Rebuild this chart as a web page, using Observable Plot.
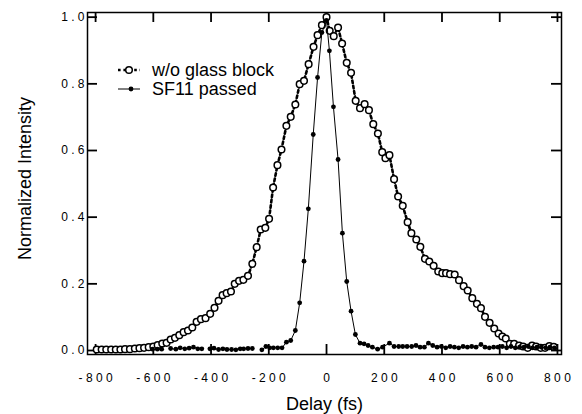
<!DOCTYPE html>
<html><head><meta charset="utf-8">
<script src="https://cdn.jsdelivr.net/npm/d3@7"></script>
<script src="https://cdn.jsdelivr.net/npm/@observablehq/plot@0.6"></script>
<style>
body{margin:0;background:#fff;}
#chart{width:582px;height:414px;}
svg{font-family:"Liberation Sans",Arial,sans-serif;}
</style></head><body><div id="chart"></div>
<script>
// ---- data ----
const seriesNames = ["w/o glass block", "SF11 passed"];
const xLabel = "Delay (fs)";
const yLabel = "Normalized Intensity";
const xTicks = [-800, -600, -400, -200, 0, 200, 400, 600, 800];
const yTicks = [0, 0.2, 0.4, 0.6, 0.8, 1.0];

const glassDelay = [
  -796,-779,-763,-746,-730,-714,-698,-681,-664,-648,
  -632,-616,-600,-585,-569,-554,-540,-525,-510,-495,
  -480,-465,-450,-435,-419,-403,-388,-374,-360,-346,
  -331,-318,-303,-288,-272,-257,-242,-228,-212,-199,
  -185,-170,-156,-139,-124,-108,-93,-78,-62,-45,
  -31,-16,0,11,25,40,54,70,85,101,
  116,132,147,162,178,193,204,218,234,248,
  264,281,294,311,325,341,356,371,387,401,
  414,428,444,459,475,489,505,521,535,549,
  565,581,596,609,621,635,650,667,681,697,
  712,726,742,757,772,787
];
const glassValue = [
  .003,.003,.003,.003,.003,.003,.004,.004,.006,.007,
  .008,.010,.012,.016,.021,.023,.033,.038,.046,.055,
  .060,.069,.086,.094,.097,.110,.128,.149,.166,.172,
  .177,.200,.209,.212,.224,.260,.310,.363,.368,.395,
  .489,.556,.603,.674,.701,.738,.799,.809,.859,.911,
  .946,.976,1.000,.959,.943,.969,.921,.863,.833,.749,
  .727,.739,.721,.679,.651,.595,.577,.586,.514,.462,
  .434,.385,.352,.333,.311,.275,.267,.254,.237,.232,
  .232,.229,.228,.211,.193,.180,.157,.140,.127,.101,
  .083,.066,.051,.042,.036,.020,.020,.015,.012,.008,
  .015,.012,.008,.008,.013,.011
];

const sf11Delay = [
  -603,-586,-571,-556,-540,-522,-507,-491,-476,-461,
  -446,-432,-418,-404,-390,-374,-359,-345,-329,-314,
  -299,-287,-272,-257,-240,-224,-210,-197,-184,-169,
  -154,-139,-124,-108,-93,-78,-63,-46,-31,-16,
  0,10,24,40,55,70,85,100,116,130,
  144,159,177,194,218,234,250,264,279,295,
  310,324,339,353,368,383,398,413,428,443,
  458,473,488,503,518,535,549,564,579,594,
  609,624,639,654,669,684,699,714,729,744,
  759,774,789
];
const sf11Value = [
  .004,.004,.004,null,.006,.004,.008,.005,.007,.010,
  .005,.005,null,.005,.007,.003,.005,.003,.003,.002,
  .005,.005,.006,.006,null,.002,.012,.008,.008,.008,
  .008,.025,.030,.060,.143,.268,.425,.648,.819,.954,
  .990,.899,.731,.573,.352,.207,.118,.048,.022,.020,
  .015,.010,.004,.010,.022,.012,.012,.012,.012,.012,
  .015,.010,.010,.022,.015,.010,.012,.008,.012,.010,
  .008,.012,.010,.012,.010,.018,.010,.008,.010,.010,
  .012,.008,.012,.008,.010,.010,.012,.008,.010,.010,
  .008,.010,.008
];

// ---- build ----
const glass = glassDelay.map((d, i) => ({delay: d, value: glassValue[i]}));
const sf11 = sf11Delay.map((d, i) => ({delay: d, value: sf11Value[i]}));
const spaced = s => s.split("").join(" ");
const FONT = '"Liberation Sans", Arial, sans-serif';
const W = 582, H = 414, ML = 87, MR = 21, MT = 12, MB = 60, TICK = 10, LW = 1.5, TW = 1.8;
const frameW = W - ML - MR, frameH = H - MT - MB;

const plot = Plot.plot({
  width: W, height: H,
  marginLeft: ML, marginRight: MR, marginTop: MT, marginBottom: MB,
  style: {fontFamily: FONT, fontSize: "12px", color: "black", background: "white", overflow: "visible"},
  x: {domain: [-828, 814]},
  y: {domain: [-0.012, 1.014]},
  marks: [
    Plot.axisX(xTicks, {anchor: "bottom", tickSize: 0, tickPadding: 19, tickFormat: d => spaced(String(d)), label: null}),
    Plot.axisY(yTicks, {anchor: "left", tickSize: 0, tickPadding: 3, tickFormat: d => spaced(d.toFixed(1)), label: null}),
    // inward tick marks on all four sides
    Plot.ruleX(xTicks, {x: d => d, insetTop: frameH - TICK, stroke: "black", strokeWidth: TW}),
    Plot.ruleX(xTicks, {x: d => d, insetBottom: frameH - TICK, stroke: "black", strokeWidth: TW}),
    Plot.ruleY(yTicks, {y: d => d, insetRight: frameW - TICK, stroke: "black", strokeWidth: TW}),
    Plot.ruleY(yTicks, {y: d => d, insetLeft: frameW - TICK, stroke: "black", strokeWidth: TW}),
    Plot.frame({stroke: "black", strokeWidth: LW}),
    Plot.text([xLabel], {frameAnchor: "bottom", text: d => d, lineAnchor: "middle", dy: 50, fontSize: 18}),
    Plot.text([yLabel], {frameAnchor: "left", text: d => d, textAnchor: "middle", lineAnchor: "middle", dx: -62, dy: -5, rotate: -90, fontSize: 18}),
    Plot.line(glass, {x: "delay", y: "value", stroke: "black", strokeWidth: 2.6, strokeDasharray: "2.6,2.8"}),
    Plot.dot(glass, {x: "delay", y: "value", r: 3.3, fill: "white", stroke: "black", strokeWidth: 1.5}),
    Plot.line(sf11, {x: "delay", y: "value", stroke: "black", strokeWidth: 1}),
    Plot.dot(sf11, {x: "delay", y: "value", r: 2.4, fill: "black", stroke: "none"})
  ]
});
document.getElementById("chart").appendChild(plot);

// ---- legend (inside the frame, top-left) ----
const svg = d3.select(plot);
const lg = svg.append("g").attr("font-family", FONT).attr("font-size", 18)
  .attr("fill", "black").attr("text-anchor", "start");
lg.append("line").attr("x1", 118).attr("x2", 140).attr("y1", 70).attr("y2", 70)
  .attr("stroke", "black").attr("stroke-width", 2.6).attr("stroke-dasharray", "2.6,2.8");
lg.append("circle").attr("cx", 129).attr("cy", 70).attr("r", 3.3)
  .attr("fill", "white").attr("stroke", "black").attr("stroke-width", 1.5);
lg.append("text").attr("x", 152).attr("y", 70).attr("dy", "0.35em").text(seriesNames[0]);
lg.append("line").attr("x1", 118).attr("x2", 140).attr("y1", 89).attr("y2", 89)
  .attr("stroke", "black").attr("stroke-width", 1);
lg.append("circle").attr("cx", 131).attr("cy", 89).attr("r", 2.4).attr("fill", "black");
lg.append("text").attr("x", 152).attr("y", 89).attr("dy", "0.35em").text(seriesNames[1]);
</script>
</body></html>
